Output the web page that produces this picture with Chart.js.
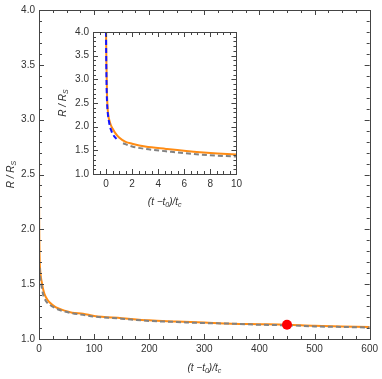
<!DOCTYPE html>
<html>
<head>
<meta charset="utf-8">
<script src="https://cdn.jsdelivr.net/npm/chart.js@4"></script>
<style>
  body { margin: 0; background: #fff; }
  #wrap { position: relative; width: 382px; height: 379px; }
  #inset { position: absolute; left: 50px; top: 22px; }
</style>
</head>
<body>
<div id="wrap">
  <canvas id="main" width="382" height="379"></canvas>
  <canvas id="inset" width="196" height="190"></canvas>
</div>
<script>
// orange solid curve
const tOrange = [0, 0.03, 0.08, 0.15, 0.3, 0.5, 0.67, 1, 1.5, 2, 3, 4.6, 7.2, 10, 15, 20, 30, 40, 60, 80, 100, 150, 200, 250, 300, 350, 400, 450, 500, 550, 600];
const rOrange = [4.0, 3.33, 2.64, 2.3, 2.09, 1.96, 1.88, 1.77, 1.68, 1.64, 1.58, 1.53, 1.46, 1.41, 1.36, 1.33, 1.29, 1.27, 1.24, 1.23, 1.21, 1.19, 1.17, 1.16, 1.15, 1.14, 1.135, 1.13, 1.12, 1.115, 1.11];

// gray dashed curve
const tGray = [1.3, 2, 3, 4.6, 7.2, 10, 15, 20, 30, 40, 60, 80, 100, 150, 200, 250, 300, 350, 400, 450, 500, 550, 600];
const rGray = [1.65, 1.58, 1.53, 1.48, 1.41, 1.37, 1.33, 1.31, 1.28, 1.26, 1.235, 1.22, 1.205, 1.185, 1.165, 1.155, 1.145, 1.14, 1.13, 1.125, 1.115, 1.11, 1.105];

// blue dashed curve (inset only)
const tBlue = [0, 0.02, 0.05, 0.1, 0.2, 0.3, 0.4, 0.5, 0.65, 0.8];
const rBlue = [4.0, 3.3, 2.75, 2.4, 2.15, 2.0, 1.92, 1.85, 1.79, 1.74];

// red marker
const tMark = [450];
const rMark = [1.13];

const mainXTicks = [0, 100, 200, 300, 400, 500, 600];
const insetXTicks = [0, 2, 4, 6, 8, 10];

const pts = (xs, ys) => xs.map((x, i) => ({ x: x, y: ys[i] }));

Chart.defaults.font.family = "'Liberation Sans', Arial, sans-serif";
Chart.defaults.font.size = 10;
Chart.defaults.color = "#333";

// frame on all four sides with inward ticks (Mathematica style)
const frameTicks = {
  id: "frameTicks",
  afterDraw(chart, args, opts) {
    const { ctx, chartArea: a, scales } = chart;
    const x = scales.x, y = scales.y;
    ctx.save();
    ctx.strokeStyle = "#444";
    ctx.lineWidth = 1;
    ctx.beginPath();
    const step = (min, max, s, fn) => {
      const n = Math.round((max - min) / s);
      for (let i = 0; i <= n; i++) fn(+(min + i * s).toFixed(6));
    };
    const xs0 = Math.ceil(x.min / opts.xMinor) * opts.xMinor;
    step(xs0, x.max, opts.xMinor, (v) => {
      const isMajor = Math.abs(v / opts.xMajor - Math.round(v / opts.xMajor)) < 1e-6;
      const len = isMajor ? 5 : 3;
      const px = Math.round(x.getPixelForValue(v)) + 0.5;
      ctx.moveTo(px, a.bottom); ctx.lineTo(px, a.bottom - len);
      ctx.moveTo(px, a.top); ctx.lineTo(px, a.top + len);
    });
    step(y.min, y.max, opts.yMinor, (v) => {
      const isMajor = Math.abs(v / opts.yMajor - Math.round(v / opts.yMajor)) < 1e-6;
      const len = isMajor ? 5 : 3;
      const py = Math.round(y.getPixelForValue(v)) + 0.5;
      ctx.moveTo(a.left, py); ctx.lineTo(a.left + len, py);
      ctx.moveTo(a.right, py); ctx.lineTo(a.right - len, py);
    });
    ctx.stroke();
    ctx.strokeRect(Math.round(a.left) + 0.5, Math.round(a.top) + 0.5,
      Math.round(a.right - a.left), Math.round(a.bottom - a.top));
    ctx.restore();
  },
};

// axis titles with subscripts
function drawRich(ctx, parts, cx, cy, rot) {
  const big = "italic 10px 'Liberation Sans', Arial, sans-serif";
  const small = "italic 7px 'Liberation Sans', Arial, sans-serif";
  let w = 0;
  parts.forEach((p) => { ctx.font = p[1] ? small : big; w += ctx.measureText(p[0]).width; });
  ctx.save();
  ctx.translate(cx, cy);
  if (rot) ctx.rotate(-Math.PI / 2);
  ctx.fillStyle = "#333";
  ctx.textBaseline = "middle";
  let xx = -w / 2;
  parts.forEach((p) => {
    ctx.font = p[1] ? small : big;
    ctx.fillText(p[0], xx, p[1] ? 3 : 0);
    xx += ctx.measureText(p[0]).width;
  });
  ctx.restore();
}

const axisTitles = {
  id: "axisTitles",
  afterDraw(chart, args, opts) {
    const { ctx, chartArea: a } = chart;
    drawRich(ctx, [["R", 0], [" / R", 0], ["S", 1]], opts.yx, (a.top + a.bottom) / 2, true);
    drawRich(ctx, [["(t \u2212t", 0], ["0", 1], [")/t", 0], ["c", 1]], (a.left + a.right) / 2, opts.xy, false);
  },
};

const orangeSet = {
  data: pts(tOrange, rOrange),
  showLine: true,
  borderColor: "rgb(255,140,20)",
  borderWidth: 2,
  pointRadius: 0,
  cubicInterpolationMode: "monotone",
  order: 3,
};
const graySet = {
  data: pts(tGray, rGray),
  showLine: true,
  borderColor: "rgb(130,130,130)",
  borderWidth: 2,
  borderDash: [5, 3],
  pointRadius: 0,
  cubicInterpolationMode: "monotone",
  order: 2,
};

function scalesFor(xMin, xMax, xStep, xTicks, yWidth, xHeight) {
  return {
    x: {
      type: "linear",
      min: xMin,
      max: xMax,
      grid: { display: false, drawTicks: false },
      border: { display: false },
      afterBuildTicks: (s) => { s.ticks = xTicks.map((v) => ({ value: v })); },
      ticks: { padding: 4, maxRotation: 0, callback: (v) => String(v) },
      afterFit: (s) => { s.height = xHeight; },
    },
    y: {
      type: "linear",
      min: 1,
      max: 4,
      grid: { display: false, drawTicks: false },
      border: { display: false },
      ticks: { stepSize: 0.5, padding: 4, callback: (v) => v.toFixed(1) },
      afterFit: (s) => { s.width = yWidth; },
    },
  };
}

new Chart(document.getElementById("main"), {
  type: "scatter",
  data: {
    datasets: [
      {
        data: pts(tMark, rMark),
        pointRadius: 5,
        pointBackgroundColor: "rgb(255,0,0)",
        pointBorderWidth: 0,
        order: 1,
      },
      graySet,
      orangeSet,
    ],
  },
  options: {
    responsive: false,
    animation: false,
    layout: { padding: { left: 0, right: 11, top: 7, bottom: 0 } },
    scales: scalesFor(0, 600, 100, mainXTicks, 39, 40),
    plugins: {
      legend: { display: false },
      tooltip: { enabled: false },
      frameTicks: { xMajor: 100, xMinor: 25, yMajor: 0.5, yMinor: 0.1 },
      axisTitles: { yx: 11, xy: 368 },
    },
  },
  plugins: [frameTicks, axisTitles],
});

new Chart(document.getElementById("inset"), {
  type: "scatter",
  data: {
    datasets: [
      {
        data: pts(tBlue, rBlue),
        showLine: true,
        borderColor: "rgb(20,20,255)",
        borderWidth: 2,
        borderDash: [5, 3],
        pointRadius: 0,
        cubicInterpolationMode: "monotone",
        order: 1,
      },
      Object.assign({}, graySet),
      Object.assign({}, orangeSet),
    ],
  },
  options: {
    responsive: false,
    animation: false,
    layout: { padding: { left: 0, right: 7, top: 7, bottom: 0 } },
    scales: scalesFor(-1, 10, 2, insetXTicks, 43, 38),
    plugins: {
      legend: { display: false },
      tooltip: { enabled: false },
      frameTicks: { xMajor: 2, xMinor: 0.5, yMajor: 0.5, yMinor: 0.1 },
      axisTitles: { yx: 13, xy: 180 },
    },
  },
  plugins: [frameTicks, axisTitles],
});
</script>
</body>
</html>
